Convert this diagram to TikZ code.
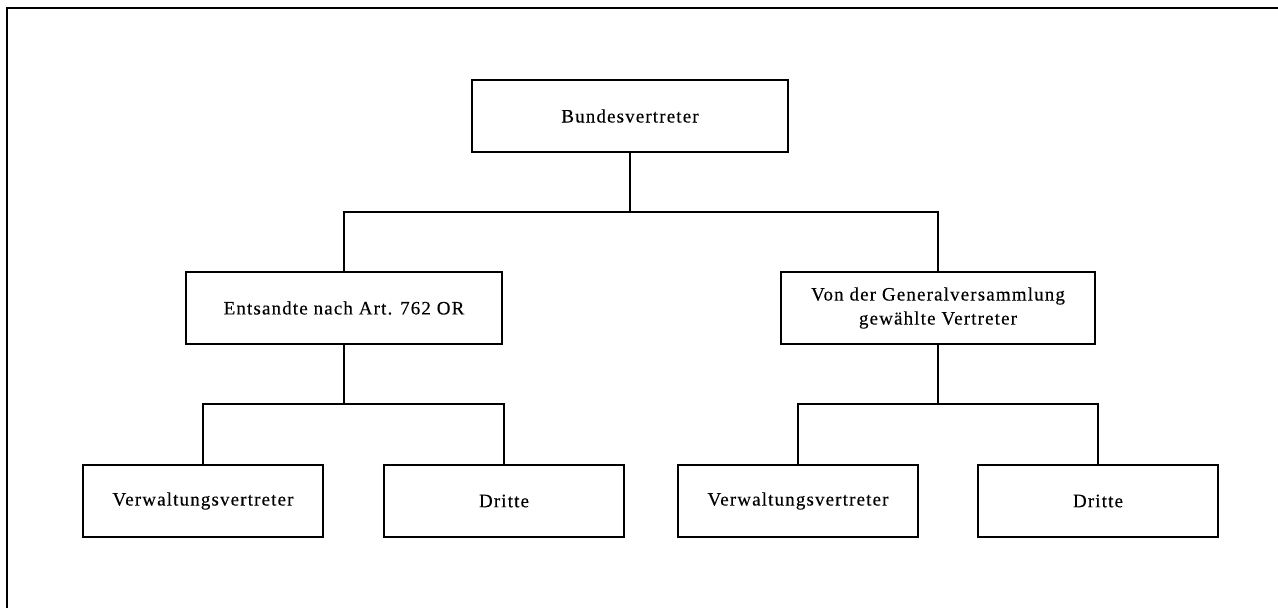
\documentclass[tikz,border=0pt]{standalone}
\usepackage{fontspec}
\setmainfont{Liberation Serif}[LetterSpace=6,FakeBold=0.3]
\begin{document}
\begin{tikzpicture}[x=1pt,y=-1pt,
  box/.style={draw=black,line width=2pt,rectangle,inner sep=2pt,align=center,
    font=\fontsize{19}{24}\selectfont},
  link/.style={draw=black,line width=2pt},
  frameline/.style={draw=black,line width=2pt}]
\useasboundingbox (0,0) rectangle (1278,608);
\draw[frameline] (7,608) -- (7,8) -- (1278,8);
\node[box,minimum width=316pt,minimum height=72pt] (top) at (630,116) {Bundesvertreter};
\node[box,minimum width=316pt,minimum height=72pt] (midL) at (344,308) {Entsandte nach Art. 762 OR};
\node[box,minimum width=314pt,minimum height=72pt] (midR) at (938,308) {Von der Generalversammlung\\gewählte Vertreter};
\node[box,minimum width=240pt,minimum height=72pt] (bL1) at (203,501) {Verwaltungsvertreter};
\node[box,minimum width=240pt,minimum height=72pt] (bL2) at (504,501) {Dritte};
\node[box,minimum width=240pt,minimum height=72pt] (bR1) at (798,501) {Verwaltungsvertreter};
\node[box,minimum width=240pt,minimum height=72pt] (bR2) at (1098,501) {Dritte};
\coordinate (busA) at (630,212);
\coordinate (busL) at (344,404);
\coordinate (busR) at (938,404);
\draw[link] (top.south) -- (busA);
\draw[link] (midL.north) -- (midL.north |- busA) -| (midR.north);
\draw[link] (midL.south) -- (busL);
\draw[link] (bL1.north) -- (bL1.north |- busL) -| (bL2.north);
\draw[link] (midR.south) -- (busR);
\draw[link] (bR1.north) -- (bR1.north |- busR) -| (bR2.north);
\end{tikzpicture}
\end{document}
